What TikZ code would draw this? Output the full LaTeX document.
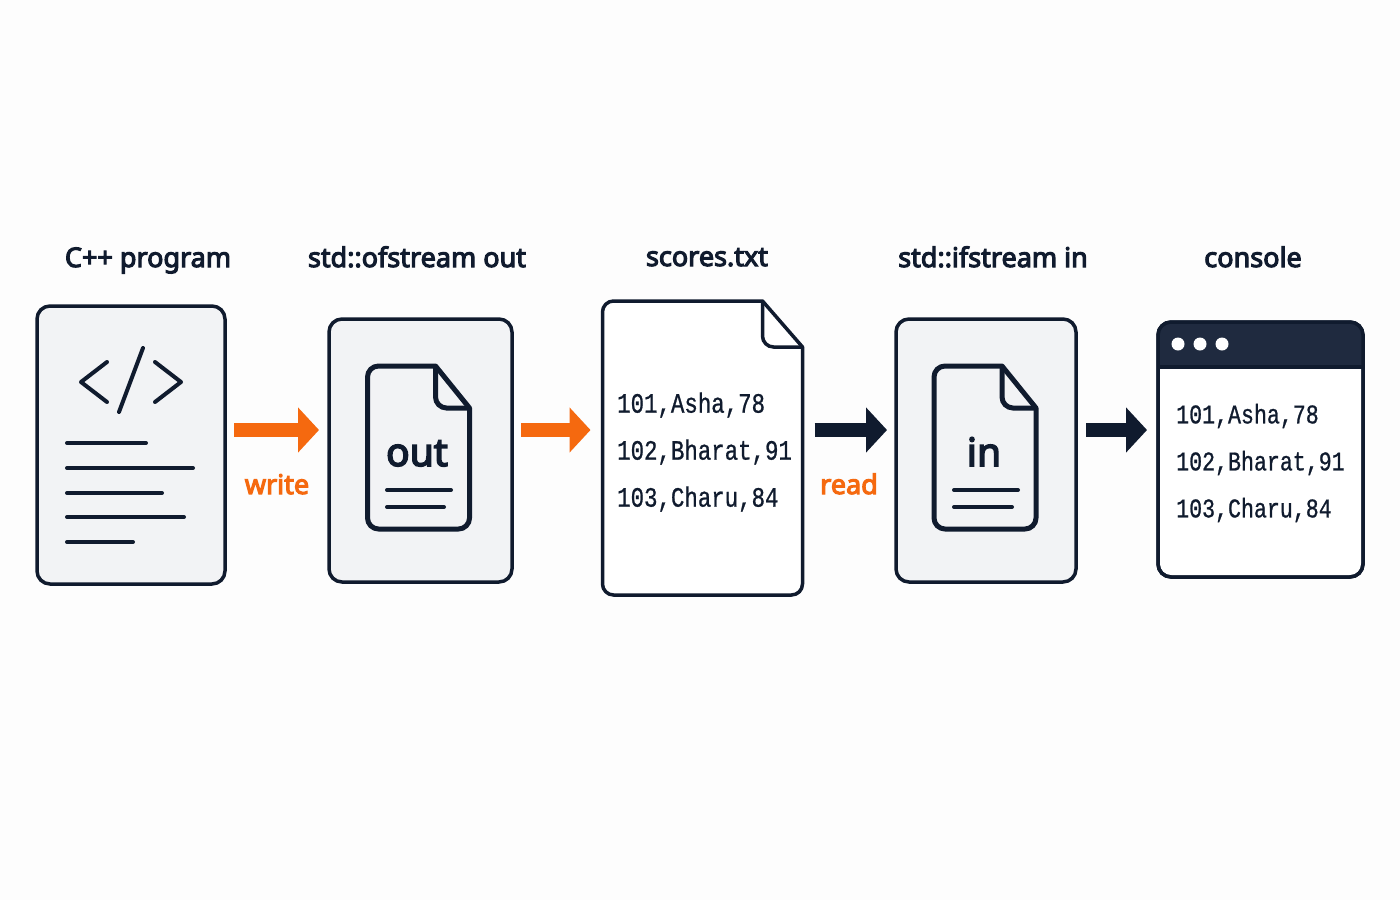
\documentclass[tikz,border=0pt]{standalone}
\usepackage{fontspec}
\setmainfont{Noto Sans}
\newfontfamily\headfont[FakeBold=4]{Noto Sans}
\newfontfamily\monotxt[FakeStretch=0.8,FakeBold=0.8]{Liberation Mono}
\usetikzlibrary{arrows.meta,calc}
\definecolor{navy}{HTML}{101B2E}
\definecolor{barnavy}{HTML}{1F2A3F}
\definecolor{boxgray}{HTML}{F2F3F5}
\definecolor{flow}{HTML}{F5690F}
\definecolor{paper}{HTML}{FDFDFD}
\tikzset{
  card/.style={draw=navy,line width=3.5pt,fill=boxgray,rounded corners=13pt,inner sep=0pt,outer sep=0pt},
  filebox/.style={inner sep=0pt,outer sep=0pt},
  heading/.style={anchor=base,text=navy,font=\fontsize{27}{30}\headfont},
  flowlabel/.style={anchor=base,text=flow,font=\fontsize{27}{30}\headfont},
  iconlabel/.style={anchor=base,text=navy,font=\fontsize{39}{46}\headfont},
  records/.style={align=left,anchor=west,text=navy,inner sep=0pt,font=\fontsize{28}{47}\monotxt},
  stroke/.style={draw=navy,line width=4pt,line cap=round,line join=round},
  pipe/.style={line width=14pt,-{Triangle[length=21pt,width=44pt]}},
}
\begin{document}
\begin{tikzpicture}[x=1pt,y=-1pt]
\useasboundingbox[fill=paper] (0,0) rectangle (1400,900);
\coordinate (level) at (0,430);

% boxes
\node[card,minimum width=188pt,minimum height=278pt] (prog) at (131,445) {};
\node[card,minimum width=183pt,minimum height=263pt] (ofs) at (420.5,450.5) {};
\node[filebox,minimum width=200pt,minimum height=294pt] (scores) at (702.5,448) {};
\node[card,minimum width=180pt,minimum height=263pt] (ifs) at (986,450.5) {};
\node[card,fill=white,minimum width=205pt,minimum height=255pt] (console) at (1260.5,449.5) {};
\node[filebox,minimum width=102pt,minimum height=163pt] (outdoc) at (418.5,447.5) {};
\node[filebox,minimum width=102pt,minimum height=163pt] (indoc) at (985,447.5) {};

% file outlines
\foreach \doc/\w/\h/\r/\lw/\fillc in {scores/40/46/11/3.5/white,outdoc/34/42/11/5/boxgray,indoc/34/42/11/5/boxgray} {
  \coordinate (foldA) at ($(\doc.north east)+(-\w,0)$);
  \coordinate (foldB) at ($(\doc.north east)+(0,\h)$);
  \draw[navy,line width=\lw pt,line join=round,fill=\fillc]
    [rounded corners=\r pt] (foldA) -- (\doc.north west) -- (\doc.south west) -- (\doc.south east)
    [sharp corners] -- (foldB) -- (foldA) -- cycle;
  \draw[navy,line width=\lw pt,rounded corners=\r pt] (foldA) -- (foldA |- foldB) -- (foldB);
}

% code icon and its lines
\draw[stroke] (107,362) -- (81,382) -- (107,402);
\draw[stroke] (143,348) -- (119,412);
\draw[stroke] (155,362) -- (181,382) -- (155,402);
\foreach \y/\xe in {443/146,468/193,493/162,517/184,542/133} {
  \draw[stroke] (67,\y) -- (\xe,\y);
}

% small files
\node[iconlabel] (outword) at (417,466) {out};
\node[iconlabel] (inword) at (984,466) {in};
\foreach \x/\xa/\xb in {0/451/444,567/451/445} {
  \draw[stroke] (387+\x,490) -- (\xa+\x,490);
  \draw[stroke] (387+\x,507) -- (\xb+\x,507);
}

% console title bar
\begin{scope}
\clip (console.north west) rectangle (console.east |- 0,367);
\fill[barnavy,rounded corners=13pt] (console.north west) rectangle (console.south east);
\end{scope}
\draw[navy,line width=3.5pt] (console.west |- 0,367) -- (console.east |- 0,367);
\draw[navy,line width=3.5pt,rounded corners=13pt] (console.north west) rectangle (console.south east);
\foreach \x in {1178,1200,1222} {
  \fill[white] (\x,344) circle (6.5pt);
}

% records
\node[records] (scoredata) at (617,452) {101,Asha,78\\102,Bharat,91\\103,Charu,84};
\node[records,font=\fontsize{27}{47}\monotxt] (consoledata) at (1176,463) {101,Asha,78\\102,Bharat,91\\103,Charu,84};

% headings
\node[heading] (progtitle) at (148,267) {C++ program};
\node[heading] (ofstitle) at (417,267) {std::ofstream out};
\node[heading] (scorestitle) at (707,266) {scores.txt};
\node[heading] (ifstitle) at (993,267) {std::ifstream in};
\node[heading] (consoletitle) at (1253,267) {console};

% arrows
\draw[pipe,flow,shorten <=9pt,shorten >=10pt] (prog.east |- level) -- (ofs.west |- level);
\draw[pipe,flow,shorten <=9pt,shorten >=12pt] (ofs.east |- level) -- (scores.west |- level);
\draw[pipe,navy,shorten <=12pt,shorten >=9pt] (scores.east |- level) -- (ifs.west |- level);
\draw[pipe,navy,shorten <=10pt,shorten >=11pt] (ifs.east |- level) -- (console.west |- level);
\node[flowlabel] (writelabel) at (277,494) {write};
\node[flowlabel] (readlabel) at (849,494) {read};
\end{tikzpicture}
\end{document}
